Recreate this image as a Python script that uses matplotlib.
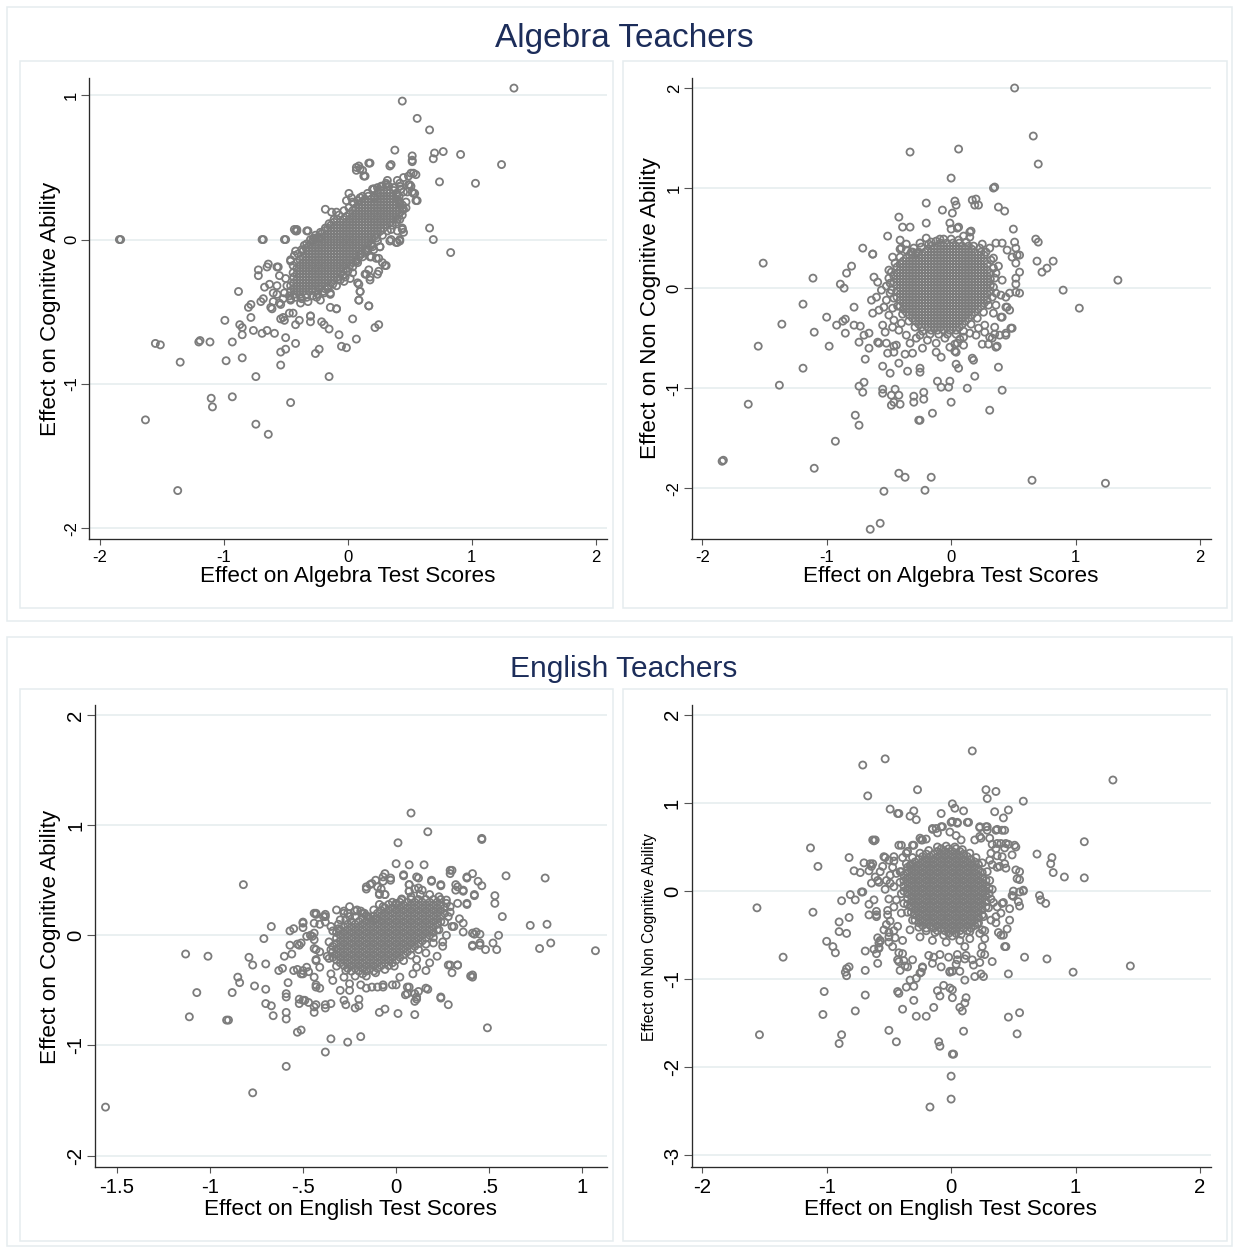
import matplotlib
matplotlib.use("Agg")
import matplotlib.pyplot as plt
from matplotlib.patches import Rectangle

plt.rcParams['font.family'] = ['Liberation Sans', 'DejaVu Sans']

W, H = 1236, 1249

# ticks and labels
alg_xticks = [-2, -1, 0, 1, 2]
alg_xtick_labels = ['-2', '-1', '0', '1', '2']
alg_cog_yticks = [-2, -1, 0, 1]
alg_noncog_yticks = [-2, -1, 0, 1, 2]
eng_cog_xticks = [-1.5, -1, -0.5, 0, 0.5, 1]
eng_cog_xtick_labels = ['-1.5', '-1', '-.5', '0', '.5', '1']
eng_cog_yticks = [-2, -1, 0, 1, 2]
eng_noncog_xticks = [-2, -1, 0, 1, 2]
eng_noncog_yticks = [-3, -2, -1, 0, 1, 2]

# ---------------- Algebra teachers: test scores vs cognitive ability ----------------
alg_cog_tail = [
    (1.34, 1.05), (0.44, 0.96), (0.56, 0.84), (0.66, 0.76), (0.38, 0.62), (0.52, 0.58), (0.52, 0.55),
    (0.70, 0.60), (0.69, 0.56), (0.77, 0.61), (0.91, 0.59), (1.24, 0.52), (1.03, 0.39), (0.74, 0.40),
    (0.18, 0.53), (0.09, 0.51), (0.07, 0.48), (0.12, 0.48), (0.13, 0.44), (0.35, 0.52), (0.66, 0.08),
    (0.69, 0.0), (0.83, -0.09), (0.44, 0.07), (0.42, 0.0), (0.35, 0.0), (0.39, -0.02), (-1.84, 0.0),
    (-1.83, 0.0), (-0.69, 0.0), (-0.51, 0.0), (-0.43, 0.07), (-0.41, 0.07), (-0.32, 0.06), (-0.18, 0.21),
    (-0.13, 0.19), (-0.09, 0.19), (0.01, 0.32), (-0.88, -0.36), (-0.72, -0.21), (-0.72, -0.25),
    (-0.64, -0.17), (-0.56, -0.19), (-0.80, -0.47), (-0.78, -0.45), (-0.78, -0.54), (-0.99, -0.56),
    (-0.87, -0.59), (-0.85, -0.61), (-0.85, -0.66), (-0.76, -0.63), (-0.69, -0.65), (-0.65, -0.63),
    (-0.59, -0.65), (-1.55, -0.72), (-1.51, -0.73), (-1.20, -0.71), (-1.19, -0.70), (-1.11, -0.71),
    (-0.93, -0.71), (-1.35, -0.85), (-0.98, -0.84), (-0.85, -0.82), (-0.74, -0.95), (-1.10, -1.10),
    (-1.09, -1.16), (-0.93, -1.09), (-0.46, -1.13), (-1.63, -1.25), (-0.74, -1.28), (-0.64, -1.35),
    (-1.37, -1.74), (-0.15, -0.95), (-0.54, -0.87), (-0.54, -0.78), (-0.50, -0.76), (-0.50, -0.68),
    (-0.42, -0.72), (-0.26, -0.79), (-0.23, -0.76), (-0.05, -0.74), (-0.01, -0.75), (-0.07, -0.66),
    (0.07, -0.69), (0.04, -0.55), (-0.09, -0.48), (-0.21, -0.57), (-0.19, -0.59), (-0.15, -0.62),
    (-0.30, -0.53), (-0.30, -0.57), (-0.39, -0.56), (-0.42, -0.59), (-0.47, -0.51), (-0.54, -0.55),
    (-0.51, -0.56), (0.22, -0.61), (0.25, -0.59), (0.17, -0.46), (0.09, -0.42), (0.10, -0.36),
    (0.08, -0.30), (0.14, -0.24), (0.18, -0.28), (0.24, -0.24), (0.17, -0.21), (0.25, -0.13),
    (0.28, -0.16), (0.31, -0.18), (0.19, -0.12), (0.26, -0.05), (0.56, 0.27), (0.53, 0.32), (0.51, 0.46),
    (0.55, 0.45), (0.50, 0.38), (0.51, 0.37), (0.31, 0.38), (0.42, 0.37), (0.37, 0.36), (0.41, 0.27),
    (0.45, 0.21), (0.42, 0.14),
]
alg_cog_halo = [
    (-0.46, -0.15), (-0.42, -0.08), (-0.43, -0.11), (-0.35, -0.04), (-0.28, 0.0), (-0.27, 0.01),
    (-0.23, 0.01), (-0.44, -0.23), (-0.49, -0.32), (-0.51, -0.37), (-0.57, -0.38), (-0.60, -0.43),
    (-0.62, -0.47), (-0.70, -0.43), (-0.54, -0.45), (-0.52, -0.41), (-0.46, -0.41), (-0.38, -0.40),
    (-0.32, -0.43), (-0.25, -0.40), (-0.19, -0.37), (-0.14, -0.38), (-0.09, -0.32), (-0.03, -0.29),
    (0.04, -0.23), (0.07, -0.15), (0.10, -0.10), (0.15, -0.07), (0.19, -0.03), (0.23, 0.01), (0.35, 0.07),
    (0.39, 0.12), (0.47, 0.26), (0.48, 0.33), (0.40, 0.41), (0.32, 0.41), (0.27, 0.37), (0.21, 0.35),
    (0.10, 0.29), (0.04, 0.26), (0.03, 0.29), (-0.01, 0.27), (-0.42, 0.06), (-0.41, 0.06), (-0.33, 0.06),
    (-0.68, 0.0), (-0.50, 0.0), (0.40, 0.06), (0.44, 0.08), (0.45, 0.05), (0.34, -0.01), (0.40, -0.02),
    (0.42, -0.01), (0.26, -0.05), (0.21, -0.07), (0.18, -0.12), (0.23, -0.13), (0.30, -0.18),
    (0.25, -0.22), (0.18, -0.26), (0.15, -0.24), (0.09, -0.31), (0.10, -0.36), (0.09, -0.42),
    (0.17, -0.46), (-0.09, -0.48), (0.02, -0.27), (-0.02, -0.26), (-0.06, -0.28), (-0.14, -0.37),
    (-0.22, -0.42), (-0.14, -0.47), (0.45, 0.43), (0.49, 0.44), (0.53, 0.46), (0.42, 0.39), (0.49, 0.38),
    (0.52, 0.33), (0.54, 0.32), (0.55, 0.27), (0.45, 0.33), (0.42, 0.25), (0.31, 0.39), (0.37, 0.34),
    (0.40, 0.31), (0.21, 0.35), (0.22, 0.29), (0.07, 0.50), (0.10, 0.49), (0.17, 0.53), (0.14, 0.44),
    (0.34, 0.51), (0.52, 0.54), (-0.65, -0.19), (-0.57, -0.19), (-0.63, -0.31), (-0.57, -0.32),
    (-0.50, -0.27), (-0.46, -0.14), (-0.55, -0.25), (-0.67, -0.33), (-0.68, -0.41), (-0.60, -0.37),
    (-0.55, -0.44), (-0.46, -0.42), (-0.38, -0.44), (-0.30, -0.53), (-0.44, -0.51), (-0.52, -0.54),
    (-0.61, -0.48),
    # ragged edge of the dense band
    (-0.44, -0.18), (-0.40, -0.10), (-0.37, -0.07), (-0.33, -0.03), (-0.30, 0.00), (-0.26, 0.03),
    (-0.22, 0.05), (-0.18, 0.08), (-0.15, 0.11), (-0.11, 0.14), (-0.07, 0.17), (-0.03, 0.20), (0.01, 0.22),
    (0.05, 0.25), (0.08, 0.27), (0.12, 0.30), (0.16, 0.32), (0.20, 0.35), (0.24, 0.36), (0.28, 0.37),
    (0.33, 0.37), (0.38, 0.36), (0.43, 0.35), (-0.47, -0.39), (-0.42, -0.40), (-0.37, -0.41),
    (-0.33, -0.40), (-0.28, -0.39), (-0.24, -0.38), (-0.20, -0.36), (-0.16, -0.34), (-0.12, -0.31),
    (-0.08, -0.28), (-0.04, -0.25), (0.00, -0.22), (0.04, -0.19), (0.08, -0.16), (0.12, -0.12),
    (0.16, -0.08), (0.20, -0.05), (0.24, -0.01), (0.28, 0.03), (0.32, 0.06), (0.36, 0.10), (0.40, 0.14),
    (0.44, 0.17), (0.47, 0.22),
]
# dense centre, read as columns: (x, [y values])
alg_cog_core = [
    (-0.46, [-0.36, -0.32]),
    (-0.435, [-0.38, -0.34, -0.30, -0.26]),
    (-0.41, [-0.36, -0.32, -0.28, -0.24, -0.20, -0.16]),
    (-0.385, [-0.38, -0.34, -0.30, -0.26, -0.22, -0.18, -0.14]),
    (-0.36, [-0.36, -0.32, -0.28, -0.24, -0.20, -0.16, -0.12, -0.08]),
    (-0.335, [-0.38, -0.34, -0.30, -0.26, -0.22, -0.18, -0.14, -0.10, -0.06]),
    (-0.31, [-0.36, -0.32, -0.28, -0.24, -0.20, -0.16, -0.12, -0.08, -0.04]),
    (-0.285, [-0.34, -0.30, -0.26, -0.22, -0.18, -0.14, -0.10, -0.06, -0.02]),
    (-0.26, [-0.36, -0.32, -0.28, -0.24, -0.20, -0.16, -0.12, -0.08, -0.04, 0.00]),
    (-0.235, [-0.34, -0.30, -0.26, -0.22, -0.18, -0.14, -0.10, -0.06, -0.02, 0.02]),
    (-0.21, [-0.32, -0.28, -0.24, -0.20, -0.16, -0.12, -0.08, -0.04, 0.00, 0.04]),
    (-0.185, [-0.34, -0.30, -0.26, -0.22, -0.18, -0.14, -0.10, -0.06, -0.02, 0.02, 0.06]),
    (-0.16, [-0.32, -0.28, -0.24, -0.20, -0.16, -0.12, -0.08, -0.04, 0.00, 0.04, 0.08]),
    (-0.135, [-0.30, -0.26, -0.22, -0.18, -0.14, -0.10, -0.06, -0.02, 0.02, 0.06, 0.10]),
    (-0.11, [-0.28, -0.24, -0.20, -0.16, -0.12, -0.08, -0.04, 0.00, 0.04, 0.08, 0.12]),
    (-0.085, [-0.26, -0.22, -0.18, -0.14, -0.10, -0.06, -0.02, 0.02, 0.06, 0.10, 0.14]),
    (-0.06, [-0.24, -0.20, -0.16, -0.12, -0.08, -0.04, 0.00, 0.04, 0.08, 0.12]),
    (-0.035, [-0.22, -0.18, -0.14, -0.10, -0.06, -0.02, 0.02, 0.06, 0.10, 0.14]),
    (-0.01, [-0.20, -0.16, -0.12, -0.08, -0.04, 0.00, 0.04, 0.08, 0.12, 0.16]),
    (0.015, [-0.18, -0.14, -0.10, -0.06, -0.02, 0.02, 0.06, 0.10, 0.14, 0.18]),
    (0.04, [-0.16, -0.12, -0.08, -0.04, 0.00, 0.04, 0.08, 0.12, 0.16, 0.20]),
    (0.065, [-0.14, -0.10, -0.06, -0.02, 0.02, 0.06, 0.10, 0.14, 0.18, 0.22]),
    (0.09, [-0.12, -0.08, -0.04, 0.00, 0.04, 0.08, 0.12, 0.16, 0.20, 0.24]),
    (0.115, [-0.10, -0.06, -0.02, 0.02, 0.06, 0.10, 0.14, 0.18, 0.22, 0.26]),
    (0.14, [-0.08, -0.04, 0.00, 0.04, 0.08, 0.12, 0.16, 0.20, 0.24, 0.28]),
    (0.165, [-0.06, -0.02, 0.02, 0.06, 0.10, 0.14, 0.18, 0.22, 0.26, 0.30]),
    (0.19, [-0.04, 0.00, 0.04, 0.08, 0.12, 0.16, 0.20, 0.24, 0.28]),
    (0.215, [0.02, 0.06, 0.10, 0.14, 0.18, 0.22, 0.26, 0.30]),
    (0.24, [0.04, 0.08, 0.12, 0.16, 0.20, 0.24, 0.28, 0.32]),
    (0.265, [0.06, 0.10, 0.14, 0.18, 0.22, 0.26, 0.30, 0.34]),
    (0.29, [0.08, 0.12, 0.16, 0.20, 0.24, 0.28, 0.32]),
    (0.315, [0.10, 0.14, 0.18, 0.22, 0.26, 0.30, 0.34]),
    (0.34, [0.12, 0.16, 0.20, 0.24, 0.28, 0.32]),
    (0.365, [0.14, 0.18, 0.22, 0.26, 0.30]),
    (0.39, [0.16, 0.20, 0.24, 0.28, 0.32]),
    (0.415, [0.18, 0.22, 0.26, 0.30]),
    (0.44, [0.20, 0.24]),
]

# ---------------- Algebra teachers: test scores vs non cognitive ability ----------------
alg_noncog_tail = [
    (0.51, 2.00), (0.66, 1.52), (0.70, 1.24), (-0.33, 1.36), (0.06, 1.39), (0.00, 1.10), (0.34, 1.00),
    (0.35, 1.01), (-0.20, 0.85), (0.03, 0.87), (0.04, 0.83), (0.17, 0.88), (0.20, 0.89), (0.19, 0.83),
    (0.22, 0.83), (-0.07, 0.78), (0.01, 0.75), (0.38, 0.81), (0.43, 0.77), (-0.42, 0.71), (-0.39, 0.61),
    (-0.33, 0.61), (-0.20, 0.65), (-0.01, 0.65), (0.00, 0.59), (0.06, 0.61), (0.16, 0.57), (0.50, 0.59),
    (-0.51, 0.52), (-0.41, 0.48), (-0.41, 0.39), (0.68, 0.49), (0.70, 0.46), (-0.71, 0.40), (-0.63, 0.34),
    (0.51, 0.46), (0.52, 0.40), (0.55, 0.33), (-1.51, 0.25), (-0.80, 0.22), (-0.84, 0.15), (-1.11, 0.10),
    (-0.89, 0.04), (-0.86, 0.00), (0.69, 0.27), (0.82, 0.27), (0.77, 0.20), (0.73, 0.16), (1.34, 0.08),
    (0.90, -0.02), (1.03, -0.20), (0.55, -0.05), (0.52, 0.04), (-1.19, -0.16), (-1.00, -0.29),
    (-0.92, -0.37), (-0.87, -0.33), (-0.85, -0.31), (-1.36, -0.36), (-1.10, -0.44), (-0.85, -0.45),
    (-0.78, -0.37), (-0.73, -0.38), (-0.78, -0.19), (-1.55, -0.58), (-0.98, -0.58), (-0.74, -0.54),
    (-0.70, -0.47), (-0.66, -0.45), (-0.66, -0.60), (-0.69, -0.71), (-1.19, -0.80), (-1.38, -0.97),
    (-1.63, -1.16), (-0.74, -0.98), (-0.70, -0.94), (-0.71, -1.04), (-0.77, -1.27), (-0.74, -1.37),
    (-0.93, -1.53), (-1.84, -1.73), (-1.83, -1.72), (-1.10, -1.80), (-0.42, -1.85), (-0.37, -1.89),
    (-0.16, -1.89), (-0.54, -2.03), (-0.21, -2.02), (-0.65, -2.41), (-0.57, -2.35), (0.65, -1.92),
    (1.24, -1.95), (0.31, -1.22), (-0.15, -1.25), (-0.26, -1.32), (-0.25, -1.32), (0.00, -1.14),
    (0.13, -1.00), (0.41, -1.02), (0.19, -0.88), (0.38, -0.79), (0.18, -0.72), (-0.11, -0.93),
    (-0.08, -0.99), (-0.02, -0.99), (-0.01, -0.93), (-0.30, -1.08), (-0.30, -1.14), (-0.22, -1.11),
    (-0.22, -1.04), (-0.55, -1.01), (-0.48, -1.07), (-0.45, -1.01), (-0.42, -1.07), (-0.48, -1.17),
    (-0.41, -1.16), (-0.46, -1.14), (-0.55, -1.05), (-0.35, -0.83), (-0.25, -0.84), (-0.25, -0.80),
    (-0.55, -0.78), (-0.49, -0.85), (-0.42, -0.75), (-0.37, -0.66), (-0.58, -0.55), (-0.51, -0.65),
    (-0.46, -0.58), (0.04, -0.76), (0.06, -0.80), (0.03, -0.63), (0.03, -0.56), (0.07, -0.51),
    (0.25, -0.56), (0.30, -0.56), (0.33, -0.50), (0.35, -0.46), (0.49, -0.40), (0.44, -0.47),
    (0.41, -0.29), (0.45, -0.19), (0.36, -0.17), (0.37, -0.58), (0.27, -0.37),
]
alg_noncog_halo = [
    (-0.25, 0.45), (-0.16, 0.46), (-0.09, 0.49), (0.05, 0.60), (0.15, 0.56), (0.15, 0.51), (0.36, 0.45),
    (0.41, 0.45), (0.31, 0.40), (0.45, 0.38), (0.53, 0.33), (-0.63, 0.34), (-0.47, 0.31), (-0.32, 0.36),
    (-0.28, 0.35), (-0.62, 0.11), (-0.59, 0.06), (-0.56, -0.02), (-0.60, -0.09), (-0.64, -0.12),
    (-0.52, -0.12), (-0.54, -0.19), (-0.58, -0.22), (-0.50, -0.27), (-0.63, -0.25), (-0.46, -0.32),
    (-0.47, -0.39), (-0.42, -0.42), (-0.55, -0.37), (-0.53, -0.44), (-0.59, -0.54), (-0.52, -0.55),
    (-0.44, -0.57), (-0.46, -0.64), (-0.36, -0.47), (-0.33, -0.55), (-0.28, -0.50), (-0.31, -0.65),
    (-0.23, -0.60), (-0.19, -0.52), (-0.12, -0.55), (-0.12, -0.64), (-0.08, -0.69), (-0.01, -0.59),
    (0.04, -0.64), (0.05, -0.55), (0.10, -0.49), (0.15, -0.45), (0.20, -0.47), (0.27, -0.44),
    (0.31, -0.49), (0.35, -0.39), (0.39, -0.47), (0.44, -0.45), (0.48, -0.40), (0.36, -0.59),
    (0.17, -0.70), (0.36, 0.15), (0.41, 0.08), (0.40, -0.07), (0.44, -0.09), (0.47, -0.05), (0.52, 0.10),
    (0.55, 0.16), (0.52, -0.04), (0.44, -0.19), (0.40, -0.29), (0.47, -0.22), (0.52, 0.25), (0.49, 0.31),
    (-0.50, 0.18), (-0.52, 0.02), (-0.49, -0.05), (-0.50, 0.10), (-0.40, 0.40), (-0.36, 0.44),
    (-0.20, 0.50), (0.10, 0.52), (0.25, 0.44), (0.34, 0.30), (0.38, 0.22), (0.36, -0.05), (0.34, -0.25),
    (0.22, -0.40), (0.10, -0.57), (-0.05, -0.50), (-0.25, -0.47), (-0.40, -0.35), (-0.47, -0.20),
    # ragged edge of the dense blob
    (-0.49, 0.05), (-0.48, 0.16), (-0.45, 0.25), (-0.41, 0.31), (-0.36, 0.38), (-0.30, 0.40),
    (-0.24, 0.41), (-0.18, 0.44), (-0.12, 0.47), (-0.06, 0.49), (0.00, 0.49), (0.06, 0.48), (0.12, 0.46),
    (0.18, 0.42), (0.23, 0.40), (0.28, 0.36), (0.32, 0.28), (0.34, 0.20), (0.35, 0.10), (0.34, 0.01),
    (0.33, -0.09), (0.30, -0.17), (0.26, -0.24), (0.21, -0.30), (0.16, -0.36), (0.10, -0.43),
    (0.04, -0.46), (-0.03, -0.46), (-0.10, -0.46), (-0.17, -0.46), (-0.23, -0.43), (-0.29, -0.39),
    (-0.34, -0.33), (-0.39, -0.26), (-0.43, -0.18), (-0.46, -0.10), (-0.48, -0.02),
]
tr_even = [-0.42, -0.36, -0.30, -0.24, -0.18, -0.12, -0.06, 0.00, 0.06, 0.12, 0.18, 0.24, 0.30, 0.36, 0.42]
tr_odd = [-0.39, -0.33, -0.27, -0.21, -0.15, -0.09, -0.03, 0.03, 0.09, 0.15, 0.21, 0.27, 0.33, 0.39, 0.45]
alg_noncog_core = [
    (-0.46, [0.06, 0.12]),
    (-0.435, [-0.09, -0.03, 0.03, 0.09, 0.15, 0.21]),
    (-0.41, [-0.18, -0.12, -0.06, 0.00, 0.06, 0.12, 0.18, 0.24]),
    (-0.385, [-0.21, -0.15, -0.09, -0.03, 0.03, 0.09, 0.15, 0.21, 0.27]),
    (-0.36, [-0.24, -0.18, -0.12, -0.06, 0.00, 0.06, 0.12, 0.18, 0.24, 0.30]),
    (-0.335, [-0.27, -0.21, -0.15, -0.09, -0.03, 0.03, 0.09, 0.15, 0.21, 0.27, 0.33]),
    (-0.31, [-0.30, -0.24, -0.18, -0.12, -0.06, 0.00, 0.06, 0.12, 0.18, 0.24, 0.30, 0.36]),
    (-0.285, [-0.33, -0.27, -0.21, -0.15, -0.09, -0.03, 0.03, 0.09, 0.15, 0.21, 0.27, 0.33]),
    (-0.26, [-0.36, -0.30, -0.24, -0.18, -0.12, -0.06, 0.00, 0.06, 0.12, 0.18, 0.24, 0.30, 0.36]),
    (-0.235, [-0.39, -0.33, -0.27, -0.21, -0.15, -0.09, -0.03, 0.03, 0.09, 0.15, 0.21, 0.27, 0.33]),
    (-0.21, [-0.36, -0.30, -0.24, -0.18, -0.12, -0.06, 0.00, 0.06, 0.12, 0.18, 0.24, 0.30, 0.36]),
    (-0.185, [-0.39, -0.33, -0.27, -0.21, -0.15, -0.09, -0.03, 0.03, 0.09, 0.15, 0.21, 0.27, 0.33, 0.39]),
    (-0.16, tr_even),
    (-0.135, [-0.39, -0.33, -0.27, -0.21, -0.15, -0.09, -0.03, 0.03, 0.09, 0.15, 0.21, 0.27, 0.33, 0.39]),
    (-0.11, tr_even),
    (-0.085, tr_odd),
    (-0.06, tr_even),
    (-0.035, tr_odd),
    (-0.01, tr_even),
    (0.015, tr_odd),
    (0.04, tr_even),
    (0.065, tr_odd),
    (0.09, [-0.36, -0.30, -0.24, -0.18, -0.12, -0.06, 0.00, 0.06, 0.12, 0.18, 0.24, 0.30, 0.36, 0.42]),
    (0.115, [-0.33, -0.27, -0.21, -0.15, -0.09, -0.03, 0.03, 0.09, 0.15, 0.21, 0.27, 0.33, 0.39]),
    (0.14, [-0.30, -0.24, -0.18, -0.12, -0.06, 0.00, 0.06, 0.12, 0.18, 0.24, 0.30, 0.36, 0.42]),
    (0.165, [-0.27, -0.21, -0.15, -0.09, -0.03, 0.03, 0.09, 0.15, 0.21, 0.27, 0.33, 0.39]),
    (0.19, [-0.24, -0.18, -0.12, -0.06, 0.00, 0.06, 0.12, 0.18, 0.24, 0.30, 0.36]),
    (0.215, [-0.21, -0.15, -0.09, -0.03, 0.03, 0.09, 0.15, 0.21, 0.27, 0.33]),
    (0.24, [-0.18, -0.12, -0.06, 0.00, 0.06, 0.12, 0.18, 0.24, 0.30, 0.36]),
    (0.265, [-0.15, -0.09, -0.03, 0.03, 0.09, 0.15, 0.21, 0.27, 0.33]),
    (0.29, [-0.12, -0.06, 0.00, 0.06, 0.12, 0.18, 0.24]),
    (0.315, [-0.03, 0.03, 0.09, 0.15]),
]

# ---------------- English teachers: test scores vs cognitive ability ----------------
eng_cog_tail = [
    (0.08, 1.11), (0.17, 0.94), (0.46, 0.88), (0.46, 0.87), (0.01, 0.84), (-0.82, 0.46), (0.0, 0.65),
    (0.07, 0.64), (0.15, 0.64), (0.04, 0.54), (0.29, 0.59), (0.29, 0.56), (0.41, 0.56), (0.59, 0.54),
    (0.80, 0.52), (-0.06, 0.56), (-0.07, 0.53), (-0.03, 0.50), (-0.11, 0.50), (-0.14, 0.46),
    (-0.16, 0.42), (-0.08, 0.42), (-0.06, 0.37), (-0.09, 0.37), (0.12, 0.52), (0.19, 0.49), (0.07, 0.46),
    (0.07, 0.40), (0.10, 0.42), (0.14, 0.41), (0.24, 0.45), (0.32, 0.46), (0.32, 0.41), (0.36, 0.40),
    (0.38, 0.52), (0.44, 0.49), (0.46, 0.45), (0.42, 0.36), (0.38, 0.28), (0.53, 0.36), (0.53, 0.29),
    (0.57, 0.17), (0.72, 0.09), (0.81, 0.10), (0.55, 0.0), (0.52, -0.07), (0.54, -0.13), (0.77, -0.12),
    (0.83, -0.07), (1.07, -0.14), (0.42, 0.01), (0.45, 0.01), (0.41, -0.10), (0.45, -0.09), (0.48, -0.13),
    (0.40, -0.37), (0.41, -0.38), (0.28, -0.27), (0.33, -0.27), (0.30, -0.34), (0.24, -0.57),
    (0.28, -0.63), (0.49, -0.84), (0.17, -0.49), (0.12, -0.51), (0.10, -0.53), (0.11, -0.58),
    (0.10, -0.60), (0.10, -0.72), (0.05, -0.54), (0.01, -0.71), (0.07, -0.47), (-0.06, -0.67),
    (-0.09, -0.70), (-0.02, -0.45), (-0.07, -0.47), (-0.13, -0.47), (-0.19, -0.92), (-0.26, -0.97),
    (-0.35, -0.94), (-0.38, -1.06), (-0.59, -1.19), (-0.77, -1.43), (-1.56, -1.56), (-0.53, -0.88),
    (-0.51, -0.86), (-0.59, -0.70), (-0.59, -0.76), (-0.66, -0.73), (-0.70, -0.62), (-0.67, -0.64),
    (-1.11, -0.74), (-0.91, -0.77), (-0.90, -0.77), (-1.07, -0.52), (-0.88, -0.52), (-0.85, -0.38),
    (-0.84, -0.43), (-0.76, -0.46), (-0.70, -0.49), (-0.79, -0.20), (-0.77, -0.27), (-0.70, -0.26),
    (-1.13, -0.17), (-1.01, -0.19), (-0.71, -0.03), (-0.67, 0.08), (-0.63, -0.32), (-0.61, -0.30),
    (-0.55, -0.32), (-0.53, -0.31), (-0.60, -0.19), (-0.56, -0.17), (-0.57, -0.09), (-0.55, 0.06),
    (-0.57, 0.04), (-0.53, -0.08), (-0.52, -0.09), (-0.58, -0.43), (-0.59, -0.53), (-0.59, -0.56),
    (-0.52, -0.58), (-0.49, -0.59), (-0.52, -0.62), (-0.50, -0.59), (-0.47, -0.61), (-0.44, -0.65),
    (-0.44, -0.70), (-0.50, 0.11), (-0.50, 0.07), (-0.43, 0.19), (-0.43, 0.20), (-0.44, 0.11),
    (-0.41, 0.10), (-0.38, 0.17), (-0.38, 0.19), (-0.46, 0.0), (-0.45, -0.01), (-0.43, -0.13),
    (-0.43, -0.23), (-0.50, -0.32), (-0.51, -0.35), (-0.47, -0.33), (-0.43, -0.45), (-0.41, -0.48),
    (-0.43, -0.63), (-0.38, -0.63), (-0.38, -0.66), (-0.35, -0.62), (-0.30, -0.50), (-0.25, -0.50),
    (-0.27, -0.63), (-0.28, -0.59), (-0.20, -0.64), (-0.22, -0.66), (-0.20, -0.58), (-0.25, 0.17),
    (-0.28, 0.22), (-0.26, 0.20), (-0.22, 0.22), (-0.19, 0.22), (-0.15, 0.17), (-0.11, 0.15),
    (-0.04, 0.28), (-0.09, 0.28), (0.0, 0.29), (0.03, 0.32),
]
eng_cog_halo = [
    (-0.44, 0.20), (-0.39, 0.17), (-0.38, 0.12), (-0.50, 0.12), (-0.44, 0.02), (-0.48, -0.01),
    (-0.44, -0.04), (-0.51, -0.07), (-0.44, -0.12), (-0.41, -0.15), (-0.35, -0.13), (-0.37, -0.19),
    (-0.43, -0.22), (-0.48, -0.29), (-0.50, -0.35), (-0.41, -0.29), (-0.44, -0.38), (-0.35, -0.35),
    (-0.34, -0.41), (-0.43, -0.47), (-0.28, -0.38), (-0.25, -0.44), (-0.19, -0.45), (-0.16, -0.48),
    (-0.10, -0.47), (-0.07, -0.45), (0.0, -0.45), (0.06, -0.47), (0.02, -0.38), (0.09, -0.35),
    (0.11, -0.29), (0.16, -0.32), (-0.25, 0.26), (-0.21, 0.23), (-0.18, 0.20), (-0.16, 0.44),
    (-0.13, 0.47), (-0.10, 0.44), (-0.07, 0.49), (-0.09, 0.38), (-0.06, 0.37), (-0.03, 0.52), (0.04, 0.55),
    (0.11, 0.53), (0.07, 0.46), (0.12, 0.43), (0.07, 0.40), (0.19, 0.50), (0.24, 0.46), (0.30, 0.59),
    (0.33, 0.44), (0.36, 0.41), (0.38, 0.53), (0.42, 0.37), (0.33, 0.29), (0.38, 0.29), (0.34, 0.15),
    (0.36, 0.11), (0.36, 0.03), (0.31, 0.08), (0.41, 0.02), (0.43, 0.03), (0.41, -0.09), (0.45, -0.07),
    (0.25, -0.10), (0.29, -0.27), (0.33, -0.27), (0.41, -0.36), (0.16, -0.48), (0.24, -0.56),
    (0.11, -0.56), (0.06, -0.53), (0.27, 0.32), (0.29, 0.26), (0.28, 0.17), (0.30, 0.08), (0.27, 0.0),
    (0.25, -0.06), (0.20, -0.07), (0.16, -0.16), (0.11, -0.22), (0.22, -0.19), (0.18, -0.25),
    (-0.32, 0.23), (-0.28, 0.20), (-0.30, 0.14), (-0.35, 0.08), (-0.31, 0.06),
    # ragged edge of the dense band
    (-0.36, -0.06), (-0.34, 0.04), (-0.31, 0.10), (-0.27, 0.14), (-0.22, 0.17), (-0.17, 0.20),
    (-0.12, 0.23), (-0.07, 0.26), (-0.02, 0.30), (0.03, 0.33), (0.08, 0.35), (0.13, 0.37), (0.18, 0.37),
    (0.23, 0.35), (0.27, 0.29), (0.29, 0.21), (-0.36, -0.21), (-0.32, -0.28), (-0.27, -0.32),
    (-0.22, -0.37), (-0.16, -0.37), (-0.11, -0.34), (-0.06, -0.31), (-0.01, -0.28), (0.04, -0.23),
    (0.08, -0.18), (0.12, -0.13), (0.16, -0.08), (0.20, -0.02), (0.23, 0.05), (0.26, 0.12),
]
eng_cog_core = [
    (-0.34, [-0.20, -0.15, -0.10]),
    (-0.32, [-0.225, -0.175, -0.125, -0.075, -0.025, 0.025]),
    (-0.30, [-0.25, -0.20, -0.15, -0.10, -0.05, 0.00, 0.05]),
    (-0.28, [-0.275, -0.225, -0.175, -0.125, -0.075, -0.025, 0.025, 0.075]),
    (-0.26, [-0.30, -0.25, -0.20, -0.15, -0.10, -0.05, 0.00, 0.05, 0.10]),
    (-0.24, [-0.325, -0.275, -0.225, -0.175, -0.125, -0.075, -0.025, 0.025, 0.075, 0.125]),
    (-0.22, [-0.30, -0.25, -0.20, -0.15, -0.10, -0.05, 0.00, 0.05, 0.10]),
    (-0.20, [-0.325, -0.275, -0.225, -0.175, -0.125, -0.075, -0.025, 0.025, 0.075, 0.125]),
    (-0.18, [-0.35, -0.30, -0.25, -0.20, -0.15, -0.10, -0.05, 0.00, 0.05, 0.10, 0.15]),
    (-0.16, [-0.325, -0.275, -0.225, -0.175, -0.125, -0.075, -0.025, 0.025, 0.075, 0.125, 0.175]),
    (-0.14, [-0.30, -0.25, -0.20, -0.15, -0.10, -0.05, 0.00, 0.05, 0.10, 0.15]),
    (-0.12, [-0.325, -0.275, -0.225, -0.175, -0.125, -0.075, -0.025, 0.025, 0.075, 0.125, 0.175]),
    (-0.10, [-0.30, -0.25, -0.20, -0.15, -0.10, -0.05, 0.00, 0.05, 0.10, 0.15, 0.20]),
    (-0.08, [-0.275, -0.225, -0.175, -0.125, -0.075, -0.025, 0.025, 0.075, 0.125, 0.175, 0.225]),
    (-0.06, [-0.25, -0.20, -0.15, -0.10, -0.05, 0.00, 0.05, 0.10, 0.15, 0.20, 0.25]),
    (-0.04, [-0.275, -0.225, -0.175, -0.125, -0.075, -0.025, 0.025, 0.075, 0.125, 0.175, 0.225]),
    (-0.02, [-0.25, -0.20, -0.15, -0.10, -0.05, 0.00, 0.05, 0.10, 0.15, 0.20, 0.25]),
    (0.00, [-0.225, -0.175, -0.125, -0.075, -0.025, 0.025, 0.075, 0.125, 0.175, 0.225, 0.275]),
    (0.02, [-0.20, -0.15, -0.10, -0.05, 0.00, 0.05, 0.10, 0.15, 0.20, 0.25, 0.30]),
    (0.04, [-0.175, -0.125, -0.075, -0.025, 0.025, 0.075, 0.125, 0.175, 0.225, 0.275]),
    (0.06, [-0.15, -0.10, -0.05, 0.00, 0.05, 0.10, 0.15, 0.20, 0.25, 0.30]),
    (0.08, [-0.125, -0.075, -0.025, 0.025, 0.075, 0.125, 0.175, 0.225, 0.275, 0.325]),
    (0.10, [-0.10, -0.05, 0.00, 0.05, 0.10, 0.15, 0.20, 0.25, 0.30]),
    (0.12, [-0.075, -0.025, 0.025, 0.075, 0.125, 0.175, 0.225, 0.275, 0.325]),
    (0.14, [-0.05, 0.00, 0.05, 0.10, 0.15, 0.20, 0.25, 0.30]),
    (0.16, [-0.025, 0.025, 0.075, 0.125, 0.175, 0.225, 0.275, 0.325]),
    (0.18, [0.00, 0.05, 0.10, 0.15, 0.20, 0.25, 0.30]),
    (0.20, [0.025, 0.075, 0.125, 0.175, 0.225, 0.275, 0.325]),
    (0.22, [0.05, 0.10, 0.15, 0.20, 0.25, 0.30]),
    (0.24, [0.125, 0.175, 0.225, 0.275, 0.325]),
    (0.26, [0.20, 0.25]),
]

# ---------------- English teachers: test scores vs non cognitive ability ----------------
eng_noncog_tail = [
    (0.17, 1.59), (-0.53, 1.50), (-0.71, 1.43), (1.30, 1.26), (-0.67, 1.08), (-0.27, 1.15), (0.28, 1.15),
    (0.29, 1.05), (0.36, 1.13), (0.58, 1.02), (0.01, 0.99), (0.03, 0.94), (0.10, 0.91), (-0.49, 0.93),
    (-0.43, 0.88), (-0.42, 0.88), (-0.33, 0.85), (-0.30, 0.91), (-0.28, 0.81), (-0.08, 0.88), (0.35, 0.90),
    (0.42, 0.83), (0.46, 0.92), (0.01, 0.79), (0.05, 0.77), (0.14, 0.78), (-0.12, 0.71), (-0.07, 0.73),
    (-0.01, 0.67), (0.23, 0.72), (0.29, 0.73), (0.29, 0.69), (0.37, 0.70), (0.43, 0.69), (-0.61, 0.58),
    (-0.62, 0.57), (-0.24, 0.58), (-0.30, 0.52), (-0.40, 0.52), (0.52, 0.50), (0.46, 0.53), (-1.13, 0.49),
    (0.69, 0.42), (1.07, 0.56), (-1.07, 0.28), (-0.82, 0.38), (0.81, 0.38), (0.80, 0.31), (0.82, 0.21),
    (0.91, 0.16), (1.07, 0.15), (-0.78, 0.23), (-0.73, 0.21), (-0.70, 0.32), (-0.65, 0.31), (-0.64, 0.28),
    (-0.66, 0.23), (-0.58, 0.10), (-0.53, 0.38), (-0.57, 0.22), (-0.61, 0.16), (0.55, 0.22), (0.55, 0.13),
    (0.58, 0.0), (0.54, -0.12), (0.55, -0.17), (0.50, -0.06), (0.71, -0.05), (0.72, -0.10), (0.76, -0.14),
    (-1.56, -0.19), (-1.11, -0.24), (-0.88, -0.11), (-0.81, -0.04), (-0.77, -0.10), (-0.72, -0.01),
    (-0.71, -0.01), (-0.66, -0.15), (-0.66, -0.27), (-0.60, -0.23), (-0.60, -0.27), (-0.82, -0.30),
    (-0.90, -0.35), (-0.90, -0.46), (-0.84, -0.48), (-1.35, -0.75), (-1.00, -0.57), (-0.95, -0.63),
    (-0.93, -0.70), (-0.84, -0.88), (-0.82, -0.86), (-0.85, -0.92), (-0.84, -0.96), (-0.69, -0.68),
    (-0.58, -0.64), (-0.57, -0.56), (-0.50, -0.47), (-0.50, -0.52), (-1.02, -1.14), (-1.03, -1.40),
    (-1.54, -1.63), (-0.88, -1.63), (-0.90, -1.73), (-0.77, -1.36), (-0.69, -1.18), (-0.50, -1.58),
    (-0.44, -1.71), (-0.43, -1.14), (-0.42, -1.16), (-0.36, -1.09), (-0.30, -1.08), (-0.30, -1.24),
    (-0.39, -1.34), (-0.28, -1.42), (-0.20, -1.42), (-0.14, -1.32), (-0.11, -1.13), (-0.09, -1.19),
    (-0.06, -1.07), (-0.01, -1.10), (0.01, -1.12), (0.01, -1.21), (0.07, -1.32), (0.09, -1.36),
    (0.11, -1.27), (0.12, -1.21), (0.10, -1.59), (-0.10, -1.71), (-0.09, -1.76), (0.01, -1.85),
    (0.02, -1.85), (0.0, -2.10), (0.0, -2.36), (-0.17, -2.45), (0.46, -1.43), (0.55, -1.38), (0.53, -1.62),
    (0.59, -0.75), (0.77, -0.77), (0.98, -0.92), (1.44, -0.85), (0.46, -0.94), (0.44, -0.63), (0.42, -0.50),
    (0.47, -0.33), (0.24, -0.94), (0.26, -0.97), (0.19, -0.97), (0.11, -1.01), (0.18, -0.84), (0.11, -0.77),
    (0.11, -0.63), (0.05, -0.72), (0.04, -0.83), (0.07, -0.91), (-0.23, -0.87), (-0.24, -0.92),
    (-0.28, -0.99), (-0.33, -1.01), (-0.41, -0.90), (-0.38, -0.79), (-0.37, -0.85), (-0.43, -0.78),
    (-0.42, -0.70), (-0.39, -0.56), (-0.45, -0.53), (-0.43, -0.40), (-0.18, -0.73), (-0.14, -0.75),
    (-0.09, -0.72), (-0.02, -0.75), (-0.01, -0.91), (0.01, -0.91), (-0.62, -0.66), (-0.59, -0.53),
    (-0.57, -0.57), (-0.69, -0.90), (-0.20, 0.59), (-0.23, 0.58), (-0.15, 0.70), (-0.11, 0.66), (0.04, 0.63),
    (0.08, 0.58), (0.19, 0.58), (0.24, 0.60), (0.33, 0.53), (0.37, 0.54), (0.43, 0.49), (0.37, 0.40),
    (0.43, 0.31), (0.37, 0.27), (0.32, 0.43), (-0.46, 0.34), (-0.47, 0.27), (-0.39, 0.38), (-0.33, 0.29),
    (-0.41, 0.22), (-0.49, 0.18), (-0.35, 0.45), (-0.53, 0.02), (-0.49, 0.09), (-0.50, -0.09),
    (-0.46, -0.18), (-0.51, -0.27), (-0.49, -0.34), (-0.52, -0.38), (-0.46, -0.45), (-0.50, -0.58),
    (-0.58, -0.65), (0.34, -0.13), (0.37, -0.18), (0.42, -0.13), (0.50, 0.0), (0.36, -0.36), (0.40, -0.25),
    (0.45, -0.43), (0.38, -0.47), (0.23, -0.48), (0.27, -0.45), (0.27, -0.54), (0.23, -0.81), (0.27, -0.72),
    (0.33, -0.80),
]
eng_noncog_halo = [
    (-0.63, 0.58), (-0.42, 0.52), (-0.31, 0.52), (-0.25, 0.60), (-0.15, 0.71), (-0.08, 0.73), (0.0, 0.78),
    (0.05, 0.78), (0.13, 0.78), (0.23, 0.73), (0.28, 0.73), (0.36, 0.69), (0.41, 0.69), (0.40, 0.54),
    (0.44, 0.54), (0.51, 0.52), (0.23, 0.62), (0.31, 0.60), (0.36, 0.48), (0.41, 0.39), (0.49, 0.41),
    (0.31, 0.35), (0.33, 0.30), (0.39, 0.28), (0.44, 0.26), (0.52, 0.24), (0.53, 0.14), (0.55, -0.01),
    (0.58, 0.01), (0.49, -0.05), (0.47, -0.20), (0.41, -0.14), (0.36, -0.29), (0.40, -0.50), (0.43, -0.63),
    (0.25, -0.63), (0.24, -0.71), (0.17, -0.78), (0.12, -0.73), (0.05, -0.78), (-0.01, -0.92),
    (-0.08, -0.86), (-0.15, -0.82), (-0.23, -0.86), (-0.25, -0.93), (-0.31, -0.78), (-0.35, -0.86),
    (-0.42, -0.80), (-0.39, -0.71), (-0.47, -0.63), (-0.58, -0.59), (-0.60, -0.71), (-0.59, -0.82),
    (-0.54, -0.44), (-0.60, -0.29), (-0.51, -0.22), (-0.62, -0.10), (-0.64, 0.09), (-0.59, 0.12),
    (-0.52, 0.12), (-0.55, 0.28), (-0.50, 0.35), (-0.46, 0.39), (-0.54, 0.39), (-0.63, 0.31), (-0.36, 0.43),
    (-0.44, 0.20), (-0.46, 0.05), (-0.44, -0.10), (-0.40, -0.25), (-0.33, -0.44), (-0.25, -0.52),
    (-0.15, -0.56), (-0.04, -0.58), (0.07, -0.56), (0.15, -0.54), (0.25, -0.44), (0.32, -0.33),
    # ragged edge of the dense blob
    (-0.41, 0.10), (-0.40, 0.22), (-0.36, 0.31), (-0.31, 0.38), (-0.25, 0.43), (-0.18, 0.46),
    (-0.11, 0.50), (-0.04, 0.51), (0.03, 0.50), (0.09, 0.47), (0.15, 0.43), (0.20, 0.38), (0.25, 0.32),
    (0.29, 0.22), (0.31, 0.12), (0.33, 0.02), (0.32, -0.09), (0.30, -0.19), (0.26, -0.29), (0.21, -0.37),
    (0.15, -0.46), (0.08, -0.49), (0.01, -0.51), (-0.06, -0.50), (-0.13, -0.47), (-0.20, -0.45),
    (-0.26, -0.41), (-0.31, -0.33), (-0.35, -0.24), (-0.38, -0.14), (-0.40, -0.03),
]
br_e15 = [-0.42, -0.36, -0.30, -0.24, -0.18, -0.12, -0.06, 0.00, 0.06, 0.12, 0.18, 0.24, 0.30, 0.36, 0.42]
br_o16 = [-0.45, -0.39, -0.33, -0.27, -0.21, -0.15, -0.09, -0.03, 0.03, 0.09, 0.15, 0.21, 0.27, 0.33,
          0.39, 0.45]
br_e17 = [-0.48, -0.42, -0.36, -0.30, -0.24, -0.18, -0.12, -0.06, 0.00, 0.06, 0.12, 0.18, 0.24, 0.30,
          0.36, 0.42, 0.48]
eng_noncog_core = [
    (-0.38, [0.00, 0.06, 0.12, 0.18]),
    (-0.35, [-0.15, -0.09, -0.03, 0.03, 0.09, 0.15, 0.21, 0.27]),
    (-0.32, [-0.24, -0.18, -0.12, -0.06, 0.00, 0.06, 0.12, 0.18, 0.24, 0.30]),
    (-0.29, [-0.33, -0.27, -0.21, -0.15, -0.09, -0.03, 0.03, 0.09, 0.15, 0.21, 0.27, 0.33]),
    (-0.26, [-0.36, -0.30, -0.24, -0.18, -0.12, -0.06, 0.00, 0.06, 0.12, 0.18, 0.24, 0.30, 0.36]),
    (-0.23, [-0.39, -0.33, -0.27, -0.21, -0.15, -0.09, -0.03, 0.03, 0.09, 0.15, 0.21, 0.27, 0.33, 0.39]),
    (-0.20, br_e15),
    (-0.17, [-0.39, -0.33, -0.27, -0.21, -0.15, -0.09, -0.03, 0.03, 0.09, 0.15, 0.21, 0.27, 0.33, 0.39]),
    (-0.14, br_e15),
    (-0.11, br_o16),
    (-0.08, [-0.42, -0.36, -0.30, -0.24, -0.18, -0.12, -0.06, 0.00, 0.06, 0.12, 0.18, 0.24, 0.30, 0.36,
             0.42, 0.48]),
    (-0.05, br_o16),
    (-0.02, br_e17),
    (0.01, br_o16),
    (0.04, br_e17),
    (0.07, br_o16),
    (0.10, br_e15),
    (0.13, [-0.45, -0.39, -0.33, -0.27, -0.21, -0.15, -0.09, -0.03, 0.03, 0.09, 0.15, 0.21, 0.27, 0.33, 0.39]),
    (0.16, [-0.42, -0.36, -0.30, -0.24, -0.18, -0.12, -0.06, 0.00, 0.06, 0.12, 0.18, 0.24, 0.30, 0.36]),
    (0.19, [-0.39, -0.33, -0.27, -0.21, -0.15, -0.09, -0.03, 0.03, 0.09, 0.15, 0.21, 0.27, 0.33]),
    (0.22, [-0.36, -0.30, -0.24, -0.18, -0.12, -0.06, 0.00, 0.06, 0.12, 0.18, 0.24, 0.30]),
    (0.25, [-0.27, -0.21, -0.15, -0.09, -0.03, 0.03, 0.09, 0.15, 0.21]),
    (0.28, [-0.18, -0.12, -0.06, 0.00, 0.06, 0.12]),
    (0.305, [-0.03, 0.03]),
]


def all_points(tail, halo, core):
    pts = list(tail) + list(halo)
    for x, ys in core:
        pts += [(x, y) for y in ys]
    return pts


fig = plt.figure(figsize=(W / 100, H / 100), dpi=100)
fig.patch.set_facecolor('white')


def px_rect(l, t, r, b):
    return [l / W, 1 - b / H, (r - l) / W, (b - t) / H]


# light panel frames as in the Stata graph region
frame_col = '#e5ecef'
for l, t, r, b in [(7, 7, 1232, 621), (20, 61, 613, 608), (623, 61, 1227, 608),
                   (7, 637, 1232, 1246), (20, 689, 613, 1241), (623, 689, 1227, 1241)]:
    x0, y0, w, h = px_rect(l, t, r, b)
    fig.add_artist(Rectangle((x0, y0), w, h, transform=fig.transFigure,
                             fill=False, ec=frame_col, lw=1.1))


def panel(rect, pts, xlim, ylim, xticks, xlabels, yticks, fs, xpad, ypad):
    ax = fig.add_axes(px_rect(*rect))
    ax.set_facecolor('white')
    ax.set_xlim(xlim)
    ax.set_ylim(ylim)
    ax.set_xticks(xticks)
    ax.set_xticklabels(xlabels)
    ax.set_yticks(yticks)
    ax.set_yticklabels([str(v) for v in yticks])
    ax.grid(axis='y', color='#e4eced', lw=1.1)
    ax.set_axisbelow(True)
    ax.scatter([p[0] for p in pts], [p[1] for p in pts], s=26, facecolors='none',
               edgecolors='#7c7c7c', linewidths=1.3, zorder=3)
    for side in ['top', 'right']:
        ax.spines[side].set_visible(False)
    for side in ['left', 'bottom']:
        ax.spines[side].set_color('#2a2a2a')
        ax.spines[side].set_linewidth(0.95)
    ax.tick_params(axis='x', direction='out', length=4.5, width=0.8, color='#555555',
                   labelsize=fs, labelcolor='black', pad=xpad)
    ax.tick_params(axis='y', direction='out', length=5.5, width=0.8, color='#555555',
                   labelsize=fs, labelcolor='black', pad=ypad, labelrotation=90)
    for lab in ax.get_yticklabels():
        lab.set_va('center')
    return ax


panel((89, 78, 607, 538.6), all_points(alg_cog_tail, alg_cog_halo, alg_cog_core),
      (-2.085, 2.09), (-2.073, 1.12), alg_xticks, alg_xtick_labels, alg_cog_yticks, 12, 3.6, 1.6)
panel((691.5, 78, 1211, 538.6), all_points(alg_noncog_tail, alg_noncog_halo, alg_noncog_core),
      (-2.086, 2.088), (-2.503, 2.1), alg_xticks, alg_xtick_labels, alg_noncog_yticks, 12, 3.6, 1.6)
panel((94.9, 705.1, 607, 1166.6), all_points(eng_cog_tail, eng_cog_halo, eng_cog_core),
      (-1.617, 1.132), (-2.1, 2.09), eng_cog_xticks, eng_cog_xtick_labels, eng_cog_yticks, 14.7, 3.7, 1.5)
panel((691.5, 705.1, 1211, 1166.6), all_points(eng_noncog_tail, eng_noncog_halo, eng_noncog_core),
      (-2.086, 2.088), (-3.126, 2.11), eng_noncog_xticks, [str(v) for v in eng_noncog_xticks],
      eng_noncog_yticks, 14.7, 3.7, 1.5)

title_col = '#1c2d5a'
fig.text(624 / W, 1 - 39 / H, 'Algebra Teachers', ha='center', va='center', fontsize=24, color=title_col)
fig.text(624 / W, 1 - 669 / H, 'English Teachers', ha='center', va='center', fontsize=21.5, color=title_col)

lab_fs = 16.2
fig.text(348 / W, 1 - 576.5 / H, 'Effect on Algebra Test Scores', ha='center', va='center', fontsize=lab_fs)
fig.text(951 / W, 1 - 576.5 / H, 'Effect on Algebra Test Scores', ha='center', va='center', fontsize=lab_fs)
fig.text(351 / W, 1 - 1209 / H, 'Effect on English Test Scores', ha='center', va='center', fontsize=lab_fs)
fig.text(951 / W, 1 - 1209 / H, 'Effect on English Test Scores', ha='center', va='center', fontsize=lab_fs)
fig.text(50.6 / W, 1 - 309 / H, 'Effect on Cognitive Ability', ha='center', va='center',
         rotation=90, fontsize=lab_fs)
fig.text(650.8 / W, 1 - 308.5 / H, 'Effect on Non Cognitive Ability', ha='center', va='center',
         rotation=90, fontsize=lab_fs)
fig.text(50.6 / W, 1 - 936.5 / H, 'Effect on Cognitive Ability', ha='center', va='center',
         rotation=90, fontsize=lab_fs)
fig.text(649.6 / W, 1 - 937 / H, 'Effect on Non Cognitive Ability', ha='center', va='center',
         rotation=90, fontsize=11.2)

fig.savefig('out.png', dpi=100, facecolor='white')
